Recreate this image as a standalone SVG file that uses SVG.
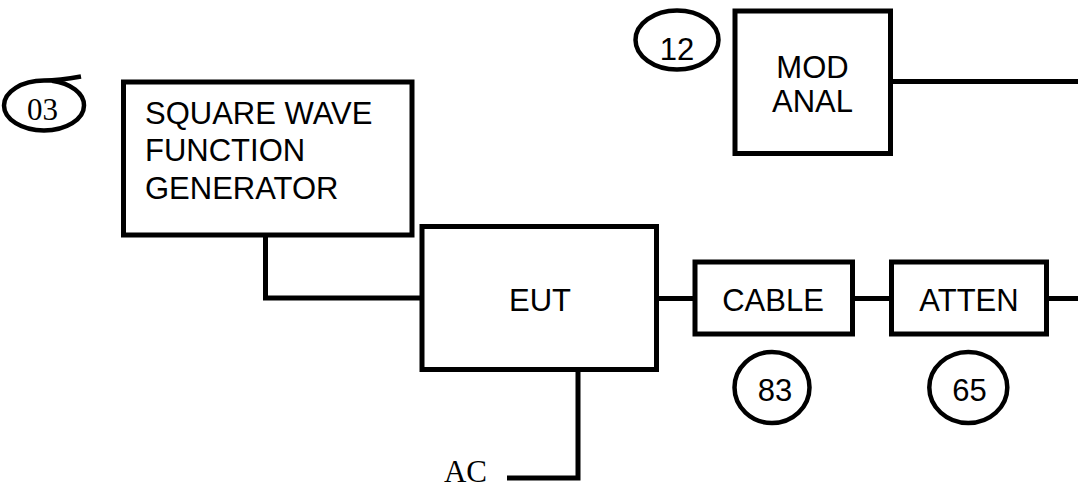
<svg xmlns="http://www.w3.org/2000/svg" width="1078" height="487" viewBox="0 0 1078 487">
<style>
.box{fill:#fff;stroke:#000;stroke-width:5}
.ell{fill:#fff;stroke:#000;stroke-width:4.5}
.wire{fill:none;stroke:#000;stroke-width:5}
.t{font-family:"Liberation Sans",Arial,sans-serif;font-size:31px;fill:#000}
.s{font-family:"Liberation Serif","Times New Roman",serif;font-size:31px;fill:#000}
</style>
<rect width="1078" height="487" fill="#fff"/>
<g id="connectors">
<polyline class="wire" points="265.5,235 265.5,298 422,298"/>
<line class="wire" x1="656" y1="298.5" x2="695" y2="298.5"/>
<line class="wire" x1="852" y1="298.5" x2="891.5" y2="298.5"/>
<line class="wire" x1="1046" y1="298.5" x2="1078" y2="298.5"/>
<line class="wire" x1="890" y1="81.5" x2="1078" y2="81.5"/>
<polyline class="wire" points="578,369 578,478 507,478"/>
</g>
<g id="c03">
<path d="M81,76.5 C70,78.5 56,80.5 44,80.5 A40,25 0 0 0 4,105.5 A40,25 0 0 0 44,130.5 A40,25 0 0 0 84,105.5 A40,25 0 0 0 52,80.8" fill="none" stroke="#000" stroke-width="4.5"/>
<text class="s" x="42.5" y="120" text-anchor="middle">03</text>
</g>
<g id="sqwave">
<rect class="box" x="123.5" y="82" width="288.5" height="153"/>
<text class="t" x="145" y="123.5">SQUARE WAVE</text>
<text class="t" x="145" y="161">FUNCTION</text>
<text class="t" x="145" y="198.5">GENERATOR</text>
</g>
<g id="c12">
<ellipse class="ell" cx="677" cy="40" rx="41.5" ry="29.5"/>
<text class="t" x="677" y="60" text-anchor="middle">12</text>
</g>
<g id="modanal">
<rect class="box" x="735" y="11" width="155.5" height="142.5"/>
<text class="t" x="812.5" y="78.3" text-anchor="middle">MOD</text>
<text class="t" x="812.5" y="111.7" text-anchor="middle">ANAL</text>
</g>
<g id="eut">
<rect class="box" x="422" y="226.5" width="234.5" height="143"/>
<text class="t" x="540" y="310.7" text-anchor="middle">EUT</text>
</g>
<g id="cable">
<rect class="box" x="695" y="262" width="157.5" height="72"/>
<text class="t" x="773" y="310.7" text-anchor="middle">CABLE</text>
</g>
<g id="atten">
<rect class="box" x="891.5" y="262" width="155" height="72"/>
<text class="t" x="969" y="310.7" text-anchor="middle">ATTEN</text>
</g>
<g id="c83">
<ellipse class="ell" cx="772" cy="387.5" rx="37.5" ry="35.5"/>
<text class="t" x="775" y="401" text-anchor="middle">83</text>
</g>
<g id="c65">
<ellipse class="ell" cx="968.3" cy="387.5" rx="39" ry="35.5"/>
<text class="t" x="969.5" y="401" text-anchor="middle">65</text>
</g>
<g id="ac">
<text class="s" x="465.5" y="481.5" text-anchor="middle">AC</text>
</g>
</svg>
